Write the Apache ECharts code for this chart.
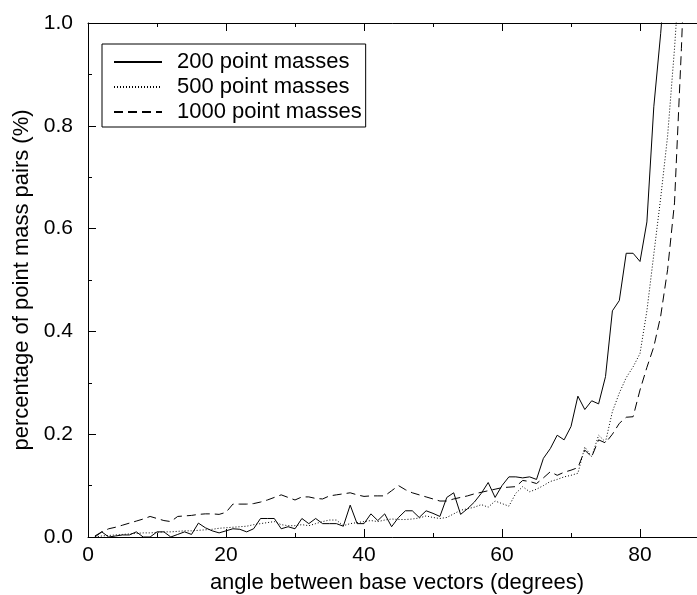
<!DOCTYPE html>
<html>
<head>
<meta charset="utf-8">
<script src="https://cdn.jsdelivr.net/npm/echarts@6/dist/echarts.min.js"></script>
<style>
html,body{margin:0;padding:0;background:#fff;}
#c{width:697px;height:595px;}
</style>
</head>
<body>
<div id="c"></div>
<script>
// angle between base vectors (degrees)
const angles = [1,2,3,4,5,6,7,8,9,10,11,12,13,14,15,16,17,18,19,20,21,22,23,24,25,26,27,28,29,30,31,32,33,34,35,36,37,38,39,40,41,42,43,44,45,46,47,48,49,50,51,52,53,54,55,56,57,58,59,60,61,62,63,64,65,66,67,68,69,70,71,72,73,74,75,76,77,78,79,80,81,82,83,84,85,86,87];

const seriesNames = ['200 point masses', '500 point masses', '1000 point masses'];

const pm200 = [0.0,0.01,0.0,0.002,0.004,0.004,0.01,0.0,0.0,0.01,0.01,0.0,0.005,0.01,0.005,0.027,0.018,0.012,0.008,0.012,
  0.016,0.015,0.01,0.016,0.036,0.036,0.036,0.016,0.02,0.016,0.036,0.026,0.036,0.026,0.026,0.026,0.021,0.062,0.026,0.026,
  0.045,0.032,0.045,0.02,0.038,0.051,0.051,0.038,0.051,0.046,0.04,0.077,0.086,0.044,0.055,0.068,0.085,0.106,0.077,0.1,
  0.117,0.117,0.115,0.117,0.112,0.153,0.172,0.198,0.189,0.215,0.274,0.248,0.265,0.259,0.312,0.44,0.46,0.552,0.552,0.536,
  0.613,0.837,0.98,1.15];

const pm500 = [0.0,0.002,0.003,0.004,0.005,0.006,0.007,0.008,0.008,0.009,0.01,0.01,0.011,0.012,0.012,0.013,0.014,0.015,0.017,0.018,
  0.019,0.02,0.021,0.024,0.026,0.028,0.03,0.024,0.022,0.022,0.024,0.022,0.026,0.03,0.033,0.033,0.022,0.026,0.028,0.03,
  0.032,0.03,0.033,0.035,0.034,0.034,0.035,0.037,0.041,0.038,0.036,0.038,0.045,0.052,0.055,0.058,0.063,0.058,0.07,0.065,
  0.06,0.085,0.098,0.088,0.093,0.1,0.108,0.112,0.117,0.12,0.124,0.175,0.156,0.198,0.185,0.244,0.28,0.31,0.331,0.357,
  0.44,0.55,0.66,0.78,0.95,1.15];

const pm1000 = [0.002,0.01,0.016,0.019,0.023,0.027,0.031,0.035,0.04,0.036,0.032,0.03,0.04,0.041,0.042,0.044,0.045,0.045,0.044,0.048,
  0.064,0.064,0.064,0.065,0.068,0.072,0.077,0.082,0.077,0.072,0.078,0.078,0.075,0.074,0.08,0.082,0.084,0.086,0.082,0.079,
  0.08,0.08,0.08,0.09,0.1,0.092,0.086,0.082,0.078,0.074,0.07,0.07,0.074,0.077,0.08,0.084,0.087,0.09,0.093,0.096,
  0.097,0.098,0.11,0.108,0.104,0.115,0.127,0.12,0.126,0.13,0.135,0.169,0.156,0.189,0.183,0.2,0.221,0.233,0.234,0.286,
  0.33,0.37,0.43,0.52,0.65,0.95,1.3];

const yTickLabels = ['0.0','0.2','0.4','0.6','0.8','1.0'];

function pairs(vals){ return vals.map((v,i)=>[angles[i], v]); }

const FONT = 'Liberation Sans, Arial, Helvetica, sans-serif';
const chart = echarts.init(document.getElementById('c'), null, {renderer:'canvas'});

const tickCommon = {show:true, inside:true, length:8, lineStyle:{color:'#000', width:1}};
const minorCommon = {show:true, splitNumber:2, length:4, lineStyle:{color:'#000', width:1}};

chart.setOption({
  animation:false,
  backgroundColor:'#fff',
  textStyle:{fontFamily:FONT},
  grid:{left:88, top:23, width:690, height:514, containLabel:false, outerBoundsMode:'none'},
  legend:{
    orient:'vertical', left:102, top:44,
    data:seriesNames,
    itemWidth:48, itemHeight:14, itemGap:3,
    padding:[7,4,4,11],
    borderColor:'#000', borderWidth:1,
    backgroundColor:'#fff',
    itemStyle:{opacity:0},
    textStyle:{fontFamily:FONT, fontSize:22, color:'#000', padding:[0,0,0,10]}
  },
  xAxis:[{
    type:'value', min:0, max:100, interval:20, position:'bottom',
    name:'angle between base vectors (degrees)', nameLocation:'middle', nameGap:35,
    nameTextStyle:{fontFamily:FONT, fontSize:22, color:'#000', padding:[0,72,0,0]},
    axisLine:{show:true, onZero:false, lineStyle:{color:'#000', width:1}},
    axisTick:tickCommon, minorTick:minorCommon,
    axisLabel:{fontFamily:FONT, fontSize:21, color:'#000', margin:8, showMaxLabel:false},
    splitLine:{show:false}
  },{
    type:'value', min:0, max:100, interval:20, position:'top',
    axisLine:{show:true, onZero:false, lineStyle:{color:'#000', width:1}},
    axisTick:tickCommon, minorTick:minorCommon,
    axisLabel:{show:false}, splitLine:{show:false}
  }],
  yAxis:{
    type:'value', min:0, max:1, interval:0.2,
    name:'percentage of point mass pairs (%)', nameLocation:'middle', nameGap:55,
    nameTextStyle:{fontFamily:FONT, fontSize:22, color:'#000'},
    axisLine:{show:true, onZero:false, lineStyle:{color:'#000', width:1}},
    axisTick:tickCommon, minorTick:minorCommon,
    axisLabel:{fontFamily:FONT, fontSize:21, color:'#000', margin:15,
      formatter:(v)=>yTickLabels[Math.round(v/0.2)]},
    splitLine:{show:false}
  },
  series:[
    {name:seriesNames[0], type:'line', xAxisIndex:0, data:pairs(pm200), symbol:'none', clip:true,
      lineStyle:{color:'#000', width:1, type:'solid'}, itemStyle:{color:'#000'}},
    {name:seriesNames[1], type:'line', xAxisIndex:0, data:pairs(pm500), symbol:'none', clip:true,
      lineStyle:{color:'#000', width:1, type:[1,2]}, itemStyle:{color:'#000'}},
    {name:seriesNames[2], type:'line', xAxisIndex:0, data:pairs(pm1000), symbol:'none', clip:true,
      lineStyle:{color:'#000', width:1, type:[9,5]}, itemStyle:{color:'#000'}}
  ]
});
</script>
</body>
</html>
